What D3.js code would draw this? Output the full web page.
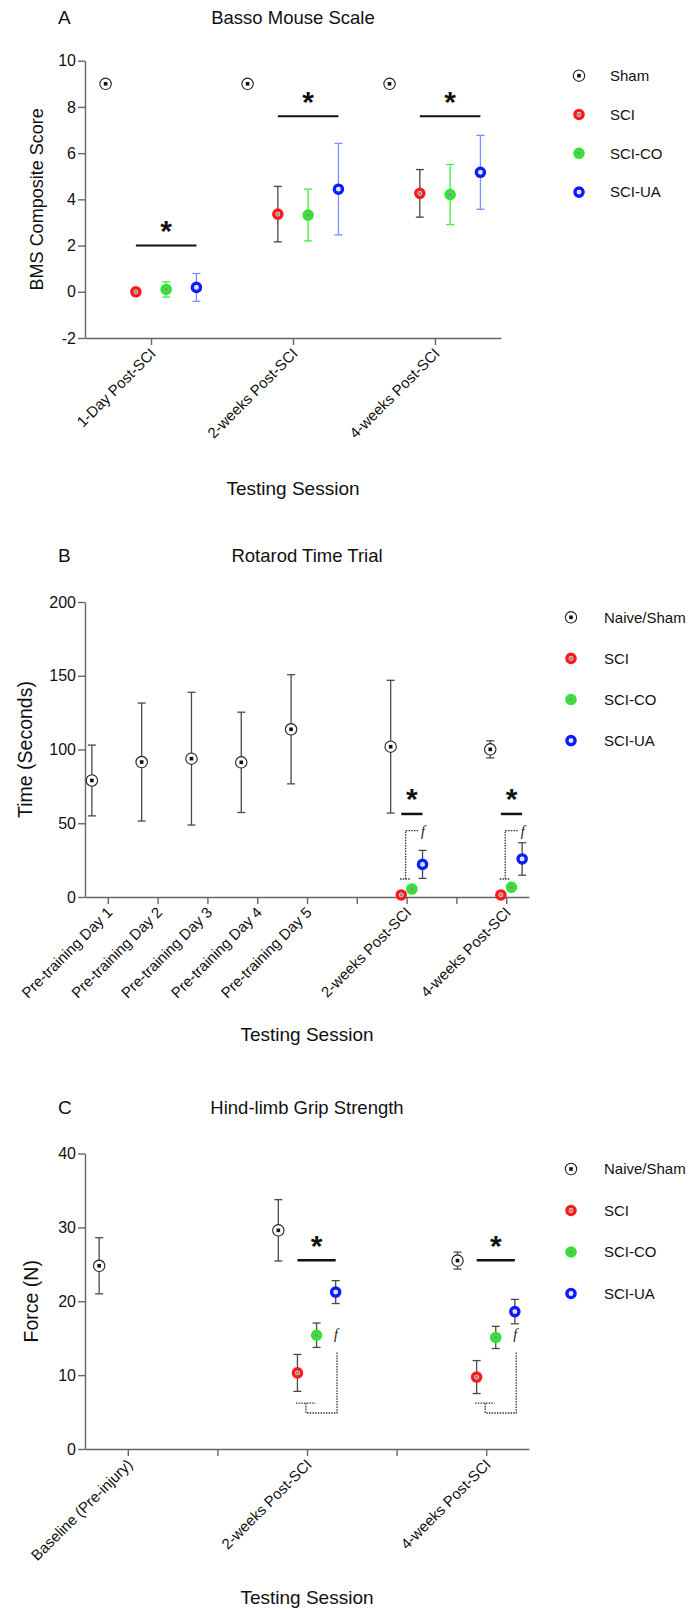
<!DOCTYPE html>
<html>
<head>
<meta charset="utf-8">
<script src="https://cdn.jsdelivr.net/npm/d3@7"></script>
<style>
body { margin: 0; background: #fff; }
text { font-family: "Liberation Sans", Arial, Helvetica, sans-serif; fill: #111; }
</style>
</head>
<body>
<script>
// legend names
var seriesA = ["Sham", "SCI", "SCI-CO", "SCI-UA"];
var seriesBC = ["Naive/Sham", "SCI", "SCI-CO", "SCI-UA"];

// A - Basso Mouse Scale
var bmsSessions = ["1-Day Post-SCI", "2-weeks Post-SCI", "4-weeks Post-SCI"];
var bmsTicks = [-2, 0, 2, 4, 6, 8, 10];
var bmsSham = [9, 9, 9];
var bmsShamErr = [0, 0, 0];
var bmsSCI = [0, 3.36, 4.26];
var bmsSCIErr = [0, 1.2, 1.03];
var bmsCO = [0.1, 3.32, 4.21];
var bmsCOErr = [0.33, 1.12, 1.3];
var bmsUA = [0.19, 4.44, 5.17];
var bmsUAErr = [0.6, 1.98, 1.6];
var bmsSig = [2.0, 7.6, 7.6];

// B - Rotarod (empty labels are the gap slots)
var rotaSessions = ["Pre-training Day 1", "Pre-training Day 2", "Pre-training Day 3", "Pre-training Day 4",
                    "Pre-training Day 5", "", "2-weeks Post-SCI", "", "4-weeks Post-SCI"];
var rotaTicks = [0, 50, 100, 150, 200];
var rotaNaive = [79, 91.5, 93.8, 91.3, 113.7, null, 101.9, null, 100.1];
var rotaNaiveErr = [24, 40, 45, 34, 37, null, 45, null, 5.8];
var rotaSCI = [null, null, null, null, null, null, 1.4, null, 1.4];
var rotaSCIErr = [null, null, null, null, null, null, 0, null, 0];
var rotaCO = [null, null, null, null, null, null, 5.4, null, 6.6];
var rotaCOErr = [null, null, null, null, null, null, 0, null, 0];
var rotaUA = [null, null, null, null, null, null, 22.1, null, 25.8];
var rotaUAErr = [null, null, null, null, null, null, 9.5, null, 11];
var rotaSig = [null, null, null, null, null, null, 56.3, null, 56.3];
var rotaBracket = [12.2, 45];

// C - Grip strength
var gripSessions = ["Baseline (Pre-injury)", "", "2-weeks Post-SCI", "", "4-weeks Post-SCI"];
var gripTicks = [0, 10, 20, 30, 40];
var gripNaive = [24.8, null, 29.6, null, 25.5];
var gripNaiveErr = [3.8, null, 4.15, null, 1.15];
var gripSCI = [null, null, 10.3, null, 9.74];
var gripSCIErr = [null, null, 2.5, null, 2.23];
var gripCO = [null, null, 15.4, null, 15.1];
var gripCOErr = [null, null, 1.65, null, 1.5];
var gripUA = [null, null, 21.24, null, 18.6];
var gripUAErr = [null, null, 1.55, null, 1.65];
var gripSig = [null, null, 25.54, null, 25.54];
var gripBracket = [4.87, 6.2, 13.06, 15.5];

var ringColor = ["#222", "#ff1a1a", "#2ee62e", "#0a1eff"];
var ringFill = ["#fff", "#f0f0f0", "#5edc5e", "#fff"];
var coreColor = ["#111", "#8c8c8c", "#8c8c8c", "#dfe2ff"];

var svg = d3.select("body").append("svg")
    .attr("width", 689)
    .attr("height", 1610);
svg.append("rect").attr("width", 689).attr("height", 1610).attr("fill", "#fff");

function drawMarker(g, k, x, y) {
    if (k == 0) {
        g.append("circle").attr("cx", x).attr("cy", y).attr("r", 5.7)
            .attr("fill", "#fff").attr("stroke", "#222").attr("stroke-width", 1.1);
        g.append("rect").attr("x", x - 1.8).attr("y", y - 1.8)
            .attr("width", 3.6).attr("height", 3.6).attr("fill", "#111");
    } else {
        g.append("circle").attr("cx", x).attr("cy", y).attr("r", 4.1)
            .attr("fill", ringFill[k]).attr("stroke", ringColor[k]).attr("stroke-width", 3.4);
        g.append("rect").attr("x", x - 1.6).attr("y", y - 1.6)
            .attr("width", 3.2).attr("height", 3.2).attr("fill", coreColor[k]);
    }
}

function drawPanel(p) {
    var g = svg.append("g");
    var x = d3.scalePoint().domain(d3.range(p.sessions.length))
        .range([p.left, p.right]).padding(p.pad);
    var step = x.step();
    var off = d3.scalePoint().domain(d3.range(4)).range([-0.32 * step, 0.32 * step]);
    var y = d3.scaleLinear().domain(p.yDomain).range([p.bottom, p.top]);
    var midX = (p.left + p.right) / 2;

    g.append("text").attr("x", 58).attr("y", p.titleY).style("font-size", "19px").text(p.letter);
    g.append("text").attr("x", midX).attr("y", p.titleY).attr("text-anchor", "middle")
        .style("font-size", "18.5px").text(p.title);

    var ya = g.append("g").attr("transform", "translate(" + p.left + ",0)")
        .call(d3.axisLeft(y).tickValues(p.ticks).tickSize(7).tickPadding(2).tickSizeOuter(0)
            .tickFormat(function (d) { return String(d); }));
    ya.selectAll("text").style("font-size", "16px");

    var xa = g.append("g").attr("transform", "translate(0," + p.bottom + ")")
        .call(d3.axisBottom(x).tickSize(7).tickSizeOuter(0)
            .tickFormat(function (i) { return p.sessions[i]; }));
    xa.selectAll("text")
        .attr("text-anchor", "end")
        .attr("x", -8).attr("y", 10).attr("dy", "0.35em")
        .attr("transform", "rotate(-45)")
        .style("font-size", "15px");
    g.selectAll(".domain, .tick line").attr("stroke", "#666").attr("stroke-width", 1.4);

    g.append("text")
        .attr("transform", "translate(" + p.ylabX + "," + ((p.top + p.bottom) / 2) + ") rotate(-90)")
        .attr("text-anchor", "middle").attr("dy", "0.35em")
        .style("font-size", p.ylabSize).text(p.ylabel);
    g.append("text").attr("x", midX).attr("y", p.xlabY).attr("text-anchor", "middle")
        .attr("dy", "0.35em").style("font-size", "19px").text("Testing Session");

    // error bars first, markers on top
    p.values.forEach(function (vals, k) {
        vals.forEach(function (v, i) {
            var e = p.errs[k][i];
            if (v == null || !e) return;
            var cx = x(i) + off(k);
            var eb = g.append("g").attr("stroke", p.errColor[k]).attr("stroke-width", 1.3);
            eb.append("line").attr("x1", cx).attr("x2", cx).attr("y1", y(v - e)).attr("y2", y(v + e));
            eb.append("line").attr("x1", cx - 4).attr("x2", cx + 4).attr("y1", y(v - e)).attr("y2", y(v - e));
            eb.append("line").attr("x1", cx - 4).attr("x2", cx + 4).attr("y1", y(v + e)).attr("y2", y(v + e));
        });
    });
    p.values.forEach(function (vals, k) {
        vals.forEach(function (v, i) {
            if (v == null) return;
            drawMarker(g, k, x(i) + off(k), y(v));
        });
    });

    // significance bars
    p.sig.forEach(function (s, i) {
        if (s == null) return;
        var x1 = x(i) + off(1), x2 = x(i) + off(3);
        g.append("line").attr("x1", x1).attr("x2", x2).attr("y1", y(s)).attr("y2", y(s))
            .attr("stroke", "#111").attr("stroke-width", p.sigWidth);
        g.append("text").attr("x", (x1 + x2) / 2).attr("y", y(s) - 4.5)
            .attr("text-anchor", "middle").style("font-size", "30px").style("font-weight", "bold").text("*");
        if (p.bracket) p.bracket(g, x(i), step, y);
    });

    p.names.forEach(function (n, k) {
        var ly = p.legY + k * p.legStep;
        drawMarker(g, k, p.legX, ly);
        g.append("text").attr("x", p.legTextX).attr("y", ly).attr("dy", "0.35em")
            .style("font-size", "15px").text(n);
    });
}

function dotted(g, pts) {
    g.append("path").attr("d", d3.line()(pts)).attr("fill", "none")
        .attr("stroke", "#333").attr("stroke-width", 1.3).attr("stroke-dasharray", "1.5,1.2");
}

function fMark(g, fx, fy) {
    g.append("text").attr("x", fx).attr("y", fy).attr("dy", "0.35em").attr("text-anchor", "middle")
        .style("font-family", "'Liberation Serif', 'DejaVu Serif', serif")
        .style("font-style", "italic").style("font-size", "14px").text("f");
}

drawPanel({
    letter: "A", title: "Basso Mouse Scale", titleY: 24,
    sessions: bmsSessions, ticks: bmsTicks, yDomain: [-2, 10],
    left: 85, right: 501, top: 60.7, bottom: 338, pad: 0.465,
    ylabel: "BMS Composite Score", ylabX: 36.5, ylabSize: "18px", xlabY: 488,
    values: [bmsSham, bmsSCI, bmsCO, bmsUA],
    errs: [bmsShamErr, bmsSCIErr, bmsCOErr, bmsUAErr],
    errColor: ["#444", "#444", "#3cf03c", "#7d8cff"],
    sig: bmsSig, sigWidth: 2,
    names: seriesA, legX: 579, legTextX: 610, legY: 75.7, legStep: 38.8
});

drawPanel({
    letter: "B", title: "Rotarod Time Trial", titleY: 562,
    sessions: rotaSessions, ticks: rotaTicks, yDomain: [0, 200],
    left: 85, right: 529, top: 602, bottom: 897, pad: 0.458,
    ylabel: "Time (Seconds)", ylabX: 25, ylabSize: "19.5px", xlabY: 1034,
    values: [rotaNaive, rotaSCI, rotaCO, rotaUA],
    errs: [rotaNaiveErr, rotaSCIErr, rotaCOErr, rotaUAErr],
    errColor: ["#4a4a4a", "#4a4a4a", "#4a4a4a", "#4a4a4a"],
    sig: rotaSig, sigWidth: 2.5,
    bracket: function (g, xc, step, y) {
        var lo = y(rotaBracket[0]), hi = y(rotaBracket[1]);
        dotted(g, [[xc - 0.13 * step, lo], [xc + 0.07 * step, lo]]);
        dotted(g, [[xc - 0.02 * step, lo], [xc - 0.02 * step, hi], [xc + 0.23 * step, hi]]);
        fMark(g, xc + 0.33 * step, hi);
    },
    names: seriesBC, legX: 571, legTextX: 604, legY: 617.3, legStep: 41.1
});

drawPanel({
    letter: "C", title: "Hind-limb Grip Strength", titleY: 1114,
    sessions: gripSessions, ticks: gripTicks, yDomain: [0, 40],
    left: 85, right: 529, top: 1153.5, bottom: 1449, pad: 0.478,
    ylabel: "Force (N)", ylabX: 31, ylabSize: "19.5px", xlabY: 1597,
    values: [gripNaive, gripSCI, gripCO, gripUA],
    errs: [gripNaiveErr, gripSCIErr, gripCOErr, gripUAErr],
    errColor: ["#4a4a4a", "#4a4a4a", "#4a4a4a", "#4a4a4a"],
    sig: gripSig, sigWidth: 2.5,
    bracket: function (g, xc, step, y) {
        var bot = y(gripBracket[0]), mid = y(gripBracket[1]), top = y(gripBracket[2]);
        dotted(g, [[xc - 0.123 * step, mid], [xc + 0.094 * step, mid]]);
        dotted(g, [[xc - 0.011 * step, mid], [xc - 0.011 * step, bot], [xc + 0.335 * step, bot], [xc + 0.335 * step, top]]);
        fMark(g, xc + 0.324 * step, y(gripBracket[3]));
    },
    names: seriesBC, legX: 571, legTextX: 604, legY: 1169, legStep: 41.5
});
</script>
</body>
</html>
